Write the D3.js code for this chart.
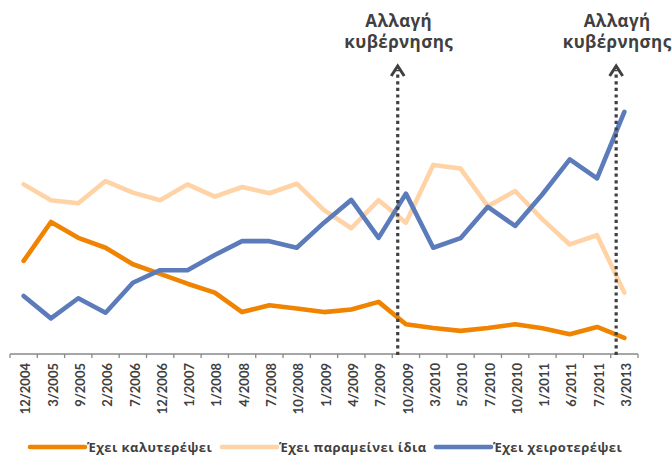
<!DOCTYPE html>
<html>
<head>
<meta charset="utf-8">
<script src="https://cdn.jsdelivr.net/npm/d3@7"></script>
<style>
  html, body { margin: 0; padding: 0; background: #fff; }
  svg { display: block; }
</style>
</head>
<body>
<svg id="chart" width="672" height="456"></svg>
<script>
const categories = ["12/2004","3/2005","9/2005","2/2006","7/2006","12/2006","1/2007","1/2008","4/2008","7/2008","10/2008","1/2009","4/2009","7/2009","10/2009","3/2010","5/2010","7/2010","10/2010","1/2011","6/2011","7/2011","3/2013"];
const better = [28.2,40,35.2,32.2,27.2,24.3,21.3,18.6,12.7,14.8,13.8,12.7,13.5,15.8,9,7.9,7,7.9,9,7.8,6,8.2,4.9];
const same   = [51.4,46.6,45.7,52.4,48.9,46.6,51.4,47.7,50.6,48.7,51.6,43.6,38.1,46.6,39.8,57.3,56.2,44.8,49.4,40.8,33.2,36,18.6];
const worse  = [17.6,10.8,16.9,12.5,21.6,25.4,25.4,30,34.2,34.2,32.2,39.8,46.7,35.2,48.6,32.2,35.1,44.6,38.8,48.4,59,53.2,73.4];
const seriesNames = ["Έχει καλυτερέψει","Έχει παραμείνει ίδια","Έχει χειροτερέψει"];
const seriesColors = ["#F08300","#FFD3A5","#5B7BBA"];
const govChanges = ["10/2009","3/2013"];
const govLabel = ["Αλλαγή","κυβέρνησης"];

const greekFont = "'Open Sans', 'Noto Sans', sans-serif";
const svg = d3.select("#chart");
const x = d3.scaleBand().domain(categories).range([10, 638]).paddingInner(0).paddingOuter(0);
const y = d3.scaleLinear().domain([0, 100]).range([354, 24]);

const seriesData = [better, same, worse];
const line = d3.line()
  .x((d, i) => x(categories[i]) + x.bandwidth() / 2)
  .y(d => y(d));

const order = [1, 0, 2];
order.forEach(k => {
  svg.append("path")
    .datum(seriesData[k])
    .attr("d", line)
    .attr("fill", "none")
    .attr("stroke", seriesColors[k])
    .attr("stroke-width", 4.6)
    .attr("stroke-linejoin", "round")
    .attr("stroke-linecap", "round");
});

const axisColor = "#898989";
svg.append("line")
  .attr("x1", x.range()[0]).attr("x2", x.range()[1])
  .attr("y1", y(0)).attr("y2", y(0))
  .attr("stroke", axisColor).attr("stroke-width", 1.3);
const tickPos = categories.map(c => x(c)).concat([x.range()[1]]);
svg.selectAll(".tick").data(tickPos).enter().append("line")
  .attr("x1", d => d).attr("x2", d => d)
  .attr("y1", y(0)).attr("y2", y(0) + 4)
  .attr("stroke", axisColor).attr("stroke-width", 1.3);

svg.selectAll(".xlabel").data(categories).enter().append("text")
  .attr("transform", d => `translate(${x(d) + x.bandwidth() / 2 + 2},${y(0) + 9}) rotate(-90)`)
  .attr("text-anchor", "end")
  .attr("dy", "0.36em")
  .attr("font-family", "Lato, 'Open Sans', sans-serif")
  .attr("font-weight", "bold")
  .attr("font-size", 13)
  .attr("fill", "#404040")
  .text(d => d);

govChanges.forEach(c => {
  const gx = x(c) + x.bandwidth() * 0.2;
  svg.append("line")
    .attr("x1", gx).attr("x2", gx)
    .attr("y1", y(0) + 1).attr("y2", 70)
    .attr("stroke", "#404040").attr("stroke-width", 3.2)
    .attr("stroke-dasharray", "3.2,3.4");
  svg.append("path")
    .attr("d", `M${gx - 6.5},${76} L${gx},${66} L${gx + 6.5},${76}`)
    .attr("fill", "none").attr("stroke", "#404040").attr("stroke-width", 3)
    .attr("stroke-linejoin", "miter");
  const t = svg.append("text")
    .attr("text-anchor", "middle")
    .attr("font-family", greekFont)
    .attr("font-weight", "bold")
    .attr("font-size", 17)
    .attr("letter-spacing", 0.4)
    .attr("fill", "#404040");
  govLabel.forEach((s, i) => {
    t.append("tspan")
      .attr("x", gx + 1).attr("y", 27 + i * 21)
      .text(s);
  });
});

const legendX = [30, 222, 436];
const legendY = 447;
seriesNames.forEach((n, i) => {
  const lx = legendX[i];
  svg.append("line")
    .attr("x1", lx).attr("x2", lx + 55)
    .attr("y1", legendY).attr("y2", legendY)
    .attr("stroke", seriesColors[i]).attr("stroke-width", 4.6)
    .attr("stroke-linecap", "round");
  svg.append("text")
    .attr("x", lx + 57).attr("y", legendY)
    .attr("dy", "0.35em")
    .attr("font-family", greekFont)
    .attr("font-weight", "bold")
    .attr("font-size", 13)
    .attr("letter-spacing", 0.45)
    .attr("fill", "#404040")
    .text(n);
});
</script>
</body>
</html>
